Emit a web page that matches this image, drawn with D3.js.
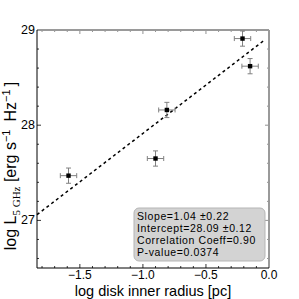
<!DOCTYPE html>
<html>
<head>
<meta charset="utf-8">
<script src="https://cdn.jsdelivr.net/npm/d3@7"></script>
<style>
  body { margin: 0; background: #fff; }
  text { font-family: "Liberation Sans", Arial, sans-serif; }
</style>
</head>
<body>
<div id="chart"></div>
<script>
// data
const radius = [-1.59, -0.81, -0.90, -0.21, -0.15];
const lum = [27.47, 28.16, 27.65, 28.91, 28.62];
const radiusErr = [0.065, 0.065, 0.065, 0.065, 0.065];
const lumErr = [0.08, 0.08, 0.08, 0.08, 0.08];
const fitX = [-1.84, -0.03];
const fitY = [27.06, 28.90];
const xTicks = [-1.5, -1.0, -0.5, 0.0];
const yTicks = [27, 28, 29];
const statsLines = ["Slope=1.04 \u00b10.22", "Intercept=28.09 \u00b10.12", "Correlation Coeff=0.90", "P-value=0.0374"];

const width = 299, height = 299;
const margin = { top: 30, right: 30, bottom: 31, left: 37 };

const svg = d3.select("#chart").append("svg")
  .attr("width", width)
  .attr("height", height);

const x = d3.scaleLinear().domain([-1.84, 0]).range([margin.left, width - margin.right]);
const y = d3.scaleLinear().domain([26.5, 29]).range([height - margin.bottom, margin.top]);

const x0 = x.range()[0], x1 = x.range()[1];
const y0 = y.range()[0], y1 = y.range()[1];

// minor ticks
const xMinor = d3.range(-18, 1).map(d => d / 10);
const yMinor = d3.range(133, 146).map(d => d / 5);

const ticks = svg.append("g");
// bottom
ticks.selectAll(".xb").data(xMinor).enter().append("line")
  .attr("x1", d => x(d)).attr("x2", d => x(d))
  .attr("y1", y0).attr("y2", d => y0 - (xTicks.some(t => Math.abs(t - d) < 1e-6) ? 4 : 2))
  .attr("stroke", "#000").attr("stroke-width", 0.8);
// top
ticks.selectAll(".xt").data(xMinor).enter().append("line")
  .attr("x1", d => x(d)).attr("x2", d => x(d))
  .attr("y1", y1).attr("y2", d => y1 + (xTicks.some(t => Math.abs(t - d) < 1e-6) ? 4 : 2))
  .attr("stroke", "#777").attr("stroke-width", 0.8);
// left
ticks.selectAll(".yl").data(yMinor).enter().append("line")
  .attr("y1", d => y(d)).attr("y2", d => y(d))
  .attr("x1", x0).attr("x2", d => x0 + (yTicks.includes(d) ? 4 : 2))
  .attr("stroke", "#000").attr("stroke-width", 0.8);
// right
ticks.selectAll(".yr").data(yMinor).enter().append("line")
  .attr("y1", d => y(d)).attr("y2", d => y(d))
  .attr("x1", x1).attr("x2", d => x1 - (yTicks.includes(d) ? 4 : 2))
  .attr("stroke", "#777").attr("stroke-width", 0.8);

// frame
svg.append("line").attr("x1", x0).attr("x2", x1).attr("y1", y1).attr("y2", y1)
  .attr("stroke", "#9a9a9a").attr("stroke-width", 2);
svg.append("line").attr("x1", x1).attr("x2", x1).attr("y1", y1).attr("y2", y0)
  .attr("stroke", "#9a9a9a").attr("stroke-width", 2);
svg.append("line").attr("x1", x0).attr("x2", x1).attr("y1", y0).attr("y2", y0)
  .attr("stroke", "#000").attr("stroke-width", 1);
svg.append("line").attr("x1", x0).attr("x2", x0).attr("y1", y1).attr("y2", y0)
  .attr("stroke", "#000").attr("stroke-width", 1);

// tick labels
svg.selectAll(".xl").data(xTicks).enter().append("text")
  .attr("x", x).attr("y", y0 + 11)
  .attr("text-anchor", "middle")
  .attr("font-size", "12px")
  .text(d => d3.format(".1f")(d).replace("-", "\u2212"));

svg.selectAll(".ylab").data(yTicks).enter().append("text")
  .attr("x", x0 - 2).attr("y", d => y(d) + 4)
  .attr("text-anchor", "end")
  .attr("font-size", "12.5px")
  .text(d => d);

// fit line
svg.append("line")
  .attr("x1", x(fitX[0])).attr("y1", y(fitY[0]))
  .attr("x2", x(fitX[1])).attr("y2", y(fitY[1]))
  .attr("stroke", "#000").attr("stroke-width", 1.5)
  .attr("stroke-dasharray", "3,3");

// error bars
const pts = radius.map((r, i) => ({ x: r, y: lum[i], ex: radiusErr[i], ey: lumErr[i] }));
const eb = svg.append("g").attr("stroke", "#808080").attr("stroke-width", 1);
pts.forEach(p => {
  eb.append("line").attr("x1", x(p.x - p.ex)).attr("x2", x(p.x + p.ex)).attr("y1", y(p.y)).attr("y2", y(p.y));
  eb.append("line").attr("x1", x(p.x)).attr("x2", x(p.x)).attr("y1", y(p.y - p.ey)).attr("y2", y(p.y + p.ey));
  eb.append("line").attr("x1", x(p.x - p.ex)).attr("x2", x(p.x - p.ex)).attr("y1", y(p.y) - 2.5).attr("y2", y(p.y) + 2.5);
  eb.append("line").attr("x1", x(p.x + p.ex)).attr("x2", x(p.x + p.ex)).attr("y1", y(p.y) - 2.5).attr("y2", y(p.y) + 2.5);
  eb.append("line").attr("x1", x(p.x) - 2.5).attr("x2", x(p.x) + 2.5).attr("y1", y(p.y - p.ey)).attr("y2", y(p.y - p.ey));
  eb.append("line").attr("x1", x(p.x) - 2.5).attr("x2", x(p.x) + 2.5).attr("y1", y(p.y + p.ey)).attr("y2", y(p.y + p.ey));
});
svg.selectAll(".pt").data(pts).enter().append("rect")
  .attr("x", d => x(d.x) - 2.2).attr("y", d => y(d.y) - 2.2)
  .attr("width", 4.4).attr("height", 4.4)
  .attr("fill", "#000");

// stats box
svg.append("rect")
  .attr("x", 134).attr("y", 208).attr("width", 131).attr("height", 53)
  .attr("rx", 5).attr("ry", 5)
  .attr("fill", "#d3d3d3").attr("stroke", "#b5b5b5").attr("stroke-width", 1);
svg.selectAll(".stat").data(statsLines).enter().append("text")
  .attr("x", 137).attr("y", (d, i) => 219.5 + i * 12.3)
  .attr("font-size", "10.5px")
  .attr("letter-spacing", "0.6px")
  .text(d => d);

// axis labels
svg.append("text")
  .attr("x", (x0 + x1) / 2).attr("y", 296)
  .attr("text-anchor", "middle")
  .attr("font-size", "14.5px")
  .text("log disk inner radius [pc]");

const yl = svg.append("text")
  .attr("transform", "translate(16,166) rotate(-90)")
  .attr("text-anchor", "middle")
  .attr("font-size", "16px");
yl.append("tspan").text("log L");
yl.append("tspan").attr("dy", 4).attr("font-size", "11px")
  .attr("font-family", "Liberation Serif, serif").text("5 GHz");
yl.append("tspan").attr("dy", -4).text(" [erg s");
yl.append("tspan").attr("dy", -6).attr("font-size", "11px").text("\u22121");
yl.append("tspan").attr("dy", 6).text("\u2002Hz");
yl.append("tspan").attr("dy", -6).attr("font-size", "11px").text("\u22121");
yl.append("tspan").attr("dy", 6).text("\u2009]");
</script>
</body>
</html>
